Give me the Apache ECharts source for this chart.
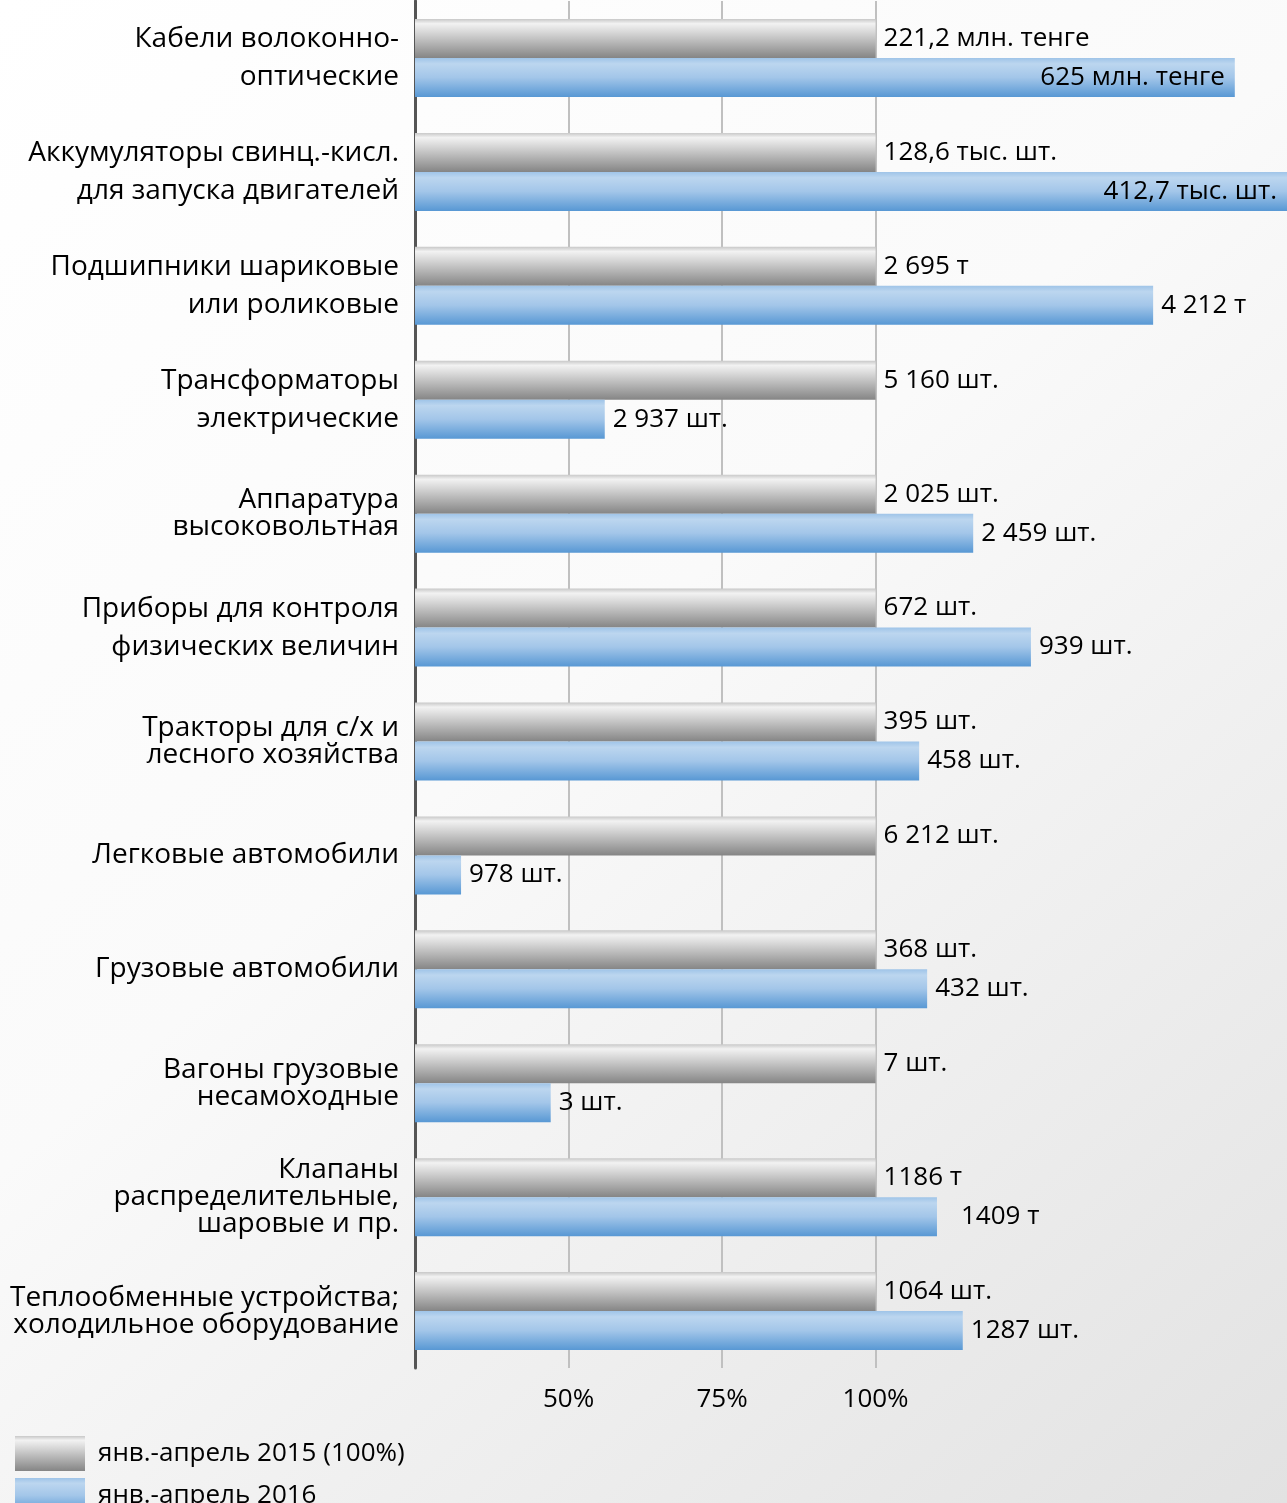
<!DOCTYPE html>
<html>
<head>
<meta charset="utf-8">
<style>
  html, body { margin: 0; padding: 0; }
  #chart { width: 1287px; height: 1503px; }
</style>
<script src="https://cdn.jsdelivr.net/npm/echarts@6/dist/echarts.min.js"></script>
</head>
<body>
<div id="chart"></div>
<script>
// ---- data ----
const categories = [
  'Кабели волоконно-\nоптические',
  'Аккумуляторы свинц.-кисл.\nдля запуска двигателей',
  'Подшипники шариковые\nили роликовые',
  'Трансформаторы\nэлектрические',
  'Аппаратура\nвысоковольтная',
  'Приборы для контроля\nфизических величин',
  'Тракторы для с/х и\nлесного хозяйства',
  'Легковые автомобили',
  'Грузовые автомобили',
  'Вагоны грузовые\nнесамоходные',
  'Клапаны\nраспределительные,\nшаровые и пр.',
  'Теплообменные устройства;\nхолодильное оборудование'
];
const seriesNames = ['янв.-апрель 2015 (100%)', 'янв.-апрель 2016'];
const values2015 = [100, 100, 100, 100, 100, 100, 100, 100, 100, 100, 100, 100];
const values2016 = [158.5, 168, 145.2, 55.9, 115.9, 125.3, 107.1, 32.5, 108.4, 47.1, 110, 114.2];
const labels2015 = ['221,2 млн. тенге', '128,6 тыс. шт.', '2 695 т', '5 160 шт.', '2 025 шт.', '672 шт.', '395 шт.', '6 212 шт.', '368 шт.', '7 шт.', '1186 т', '1064 шт.'];
const labels2016 = ['625 млн. тенге', '412,7 тыс. шт.', '4 212 т', '2 937 шт.', '2 459 шт.', '939 шт.', '458 шт.', '978 шт.', '432 шт.', '3 шт.', '1409 т', '1287 шт.'];
const axisTickValues = [50, 75, 100];
const axisTickLabels = ['50%', '75%', '100%'];

// ---- styles (kept apart from data) ----
const tightLabelIdx = [4, 6, 9, 10, 11];
const insideLabelIdx = [0, 1];
const wideLabelIdx = [10];
const FONT = "'Open Sans', 'Noto Sans', sans-serif";

const grayGrad = new echarts.graphic.LinearGradient(0, 0, 0, 1, [
  { offset: 0, color: '#c8c8c8' },
  { offset: 0.12, color: '#f2f2f2' },
  { offset: 0.35, color: '#d6d6d6' },
  { offset: 1, color: '#858585' }
]);
const blueGrad = new echarts.graphic.LinearGradient(0, 0, 0, 1, [
  { offset: 0, color: '#9fc4e8' },
  { offset: 0.15, color: '#bcd6ef' },
  { offset: 0.5, color: '#a3c6e9' },
  { offset: 1, color: '#5898d4' }
]);

const catData = categories.map((c, i) => ({
  value: c,
  textStyle: { lineHeight: tightLabelIdx.includes(i) ? 27 : 38 }
}));

const data2016 = values2016.map((v, i) => {
  const item = { value: v, labelText: labels2016[i] };
  if (insideLabelIdx.includes(i)) {
    item.label = { position: 'insideRight', distance: 10 };
  } else if (wideLabelIdx.includes(i)) {
    item.label = { distance: 24 };
  }
  return item;
});

const chart = echarts.init(document.getElementById('chart'), null, { renderer: 'canvas' });
chart.setOption({
  animation: false,
  backgroundColor: new echarts.graphic.LinearGradient(0, 0, 1, 1, [
    { offset: 0, color: '#ffffff' },
    { offset: 0.45, color: '#fafafa' },
    { offset: 1, color: '#e2e2e2' }
  ]),
  textStyle: { fontFamily: FONT },
  grid: { left: 415, right: 0, top: 1, height: 1367, containLabel: false },
  legend: {
    orient: 'vertical',
    left: 10,
    top: 1431,
    height: 200,
    itemWidth: 70,
    itemHeight: 35,
    itemGap: 7,
    icon: 'rect',
    data: seriesNames,
    textStyle: { fontSize: 26, color: '#000', fontFamily: FONT, padding: [0, 0, 0, 8] }
  },
  xAxis: {
    type: 'value',
    min: 25,
    max: 167,
    interval: 25,
    axisLine: { show: false },
    axisTick: { show: true, customValues: axisTickValues, length: 0, lineStyle: { color: 'rgba(0,0,0,0)', width: 0 } },
    axisLabel: {
      customValues: axisTickValues,
      formatter: (v) => axisTickLabels[axisTickValues.indexOf(v)] || '',
      fontSize: 26, color: '#000', fontFamily: FONT, margin: 19
    },
    splitLine: { show: true, customValues: axisTickValues, lineStyle: { color: '#c0c0c0', width: 2 } }
  },
  yAxis: {
    type: 'category',
    inverse: true,
    data: catData,
    axisLine: { show: true, lineStyle: { color: '#555', width: 3 } },
    axisTick: { show: false },
    axisLabel: { fontSize: 28, color: '#000', fontFamily: FONT, margin: 16, align: 'right' }
  },
  series: [
    {
      name: seriesNames[0],
      type: 'bar',
      data: values2015.map((v, i) => ({ value: v, labelText: labels2015[i] })),
      barWidth: 39,
      barGap: '0%',
      itemStyle: { color: grayGrad },
      label: {
        show: true, position: 'right', distance: 8,
        fontSize: 26, color: '#000', fontFamily: FONT,
        formatter: (p) => p.data.labelText
      }
    },
    {
      name: seriesNames[1],
      type: 'bar',
      data: data2016,
      barWidth: 39,
      barGap: '0%',
      itemStyle: { color: blueGrad },
      label: {
        show: true, position: 'right', distance: 8,
        fontSize: 26, color: '#000', fontFamily: FONT,
        formatter: (p) => p.data.labelText
      }
    }
  ]
});
</script>
</body>
</html>
